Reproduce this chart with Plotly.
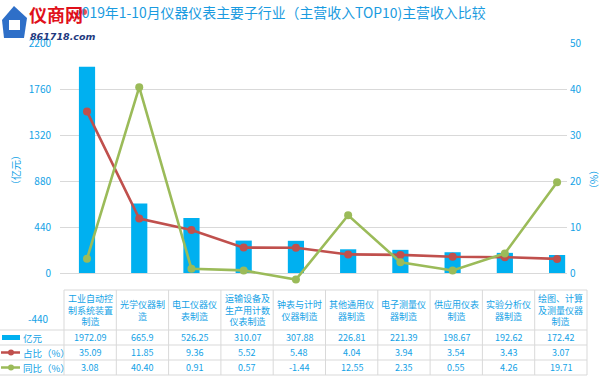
import plotly.graph_objects as go

# ---------------- data ----------------
categories = ["工业自动控制系统装置制造", "光学仪器制造", "电工仪器仪表制造",
              "运输设备及生产用计数仪表制造", "钟表与计时仪器制造", "其他通用仪器制造",
              "电子测量仪器制造", "供应用仪表制造", "实验分析仪器制造", "绘图、计算及测量仪器制造"]
header_labels = ["工业自动控<br>制系统装置<br>制造", "光学仪器制<br>造", "电工仪器仪<br>表制造",
                 "运输设备及<br>生产用计数<br>仪表制造", "钟表与计时<br>仪器制造", "其他通用仪<br>器制造",
                 "电子测量仪<br>器制造", "供应用仪表<br>制造", "实验分析仪<br>器制造", "绘图、计算<br>及测量仪器<br>制造"]
revenue = [1972.09, 665.9, 526.25, 310.07, 307.88, 226.81, 221.39, 198.67, 192.62, 172.42]
share = [35.09, 11.85, 9.36, 5.52, 5.48, 4.04, 3.94, 3.54, 3.43, 3.07]
growth = [3.08, 40.40, 0.91, 0.57, -1.44, 12.55, 2.35, 0.55, 4.26, 19.71]
left_ticks = [0, 440, 880, 1320, 1760, 2200]
right_ticks = [0, 10, 20, 30, 40, 50]
row_names = ["亿元", "占比（%）", "同比（%）"]
title_text = "2019年1-10月仪器仪表主要子行业（主营收入TOP10)主营收入比较"

# ---------------- style ----------------
W, H = 600, 378
BLUE = "#00B0F0"
TXT = "#12A2E6"
RED = "#C0504D"
GREEN = "#9BBB59"
GRID = "#D9D9D9"
FONT = "Noto Sans CJK SC"


def px(x):
    return x / W


def py(y):
    return 1 - y / H


fig = go.Figure()
fig.add_trace(go.Bar(x=categories, y=revenue, marker_color=BLUE, marker_line_width=0,
                     width=0.31, yaxis="y", name="亿元"))
fig.add_trace(go.Scatter(x=categories, y=share, yaxis="y2", mode="lines+markers",
                         line=dict(color=RED, width=2.6), marker=dict(size=8, color=RED),
                         name="占比（%）"))
fig.add_trace(go.Scatter(x=categories, y=growth, yaxis="y2", mode="lines+markers",
                         line=dict(color=GREEN, width=2.6), marker=dict(size=8, color=GREEN),
                         name="同比（%）"))

fig.update_layout(
    width=W, height=H, autosize=False,
    margin=dict(l=0, r=0, t=0, b=0, pad=0, autoexpand=False),
    title=dict(text=""),
    paper_bgcolor="white", plot_bgcolor="white",
    showlegend=False,
    font=dict(family=FONT, color=TXT, size=10),
    xaxis=dict(domain=[px(60), px(567)], type="category", range=[-0.517, 9.19],
               showticklabels=False, showgrid=False, zeroline=False, showline=False,
               automargin=False),
    yaxis=dict(domain=[py(319), py(43)], range=[-440, 2200], tickvals=left_ticks,
               showgrid=True, gridcolor=GRID, gridwidth=1, zeroline=False, showline=False,
               automargin=False,
               ticklabelstandoff=8, tickfont=dict(size=10, color=TXT)),
    yaxis2=dict(overlaying="y", side="right", range=[-10, 50], tickvals=right_ticks,
                showgrid=False, zeroline=False, showline=False, automargin=False,
                ticklabelstandoff=2, tickfont=dict(size=10, color=TXT)),
)

shapes = []
annotations = []

# title
annotations.append(dict(text=title_text, x=px(280), y=py(12), xref="paper", yref="paper",
                        showarrow=False, font=dict(size=13.9, color="#1A9BE0", family=FONT),
                        xanchor="center", yanchor="middle"))

# logo
shapes.append(dict(type="path", xref="paper", yref="paper",
                   path=f"M {px(2)} {py(20)} L {px(14)} {py(6)} L {px(27)} {py(18)} L {px(24)} {py(38)} L {px(4)} {py(38)} Z",
                   fillcolor="#2E6FC8", line=dict(width=0), layer="above"))
shapes.append(dict(type="rect", xref="paper", yref="paper", x0=px(9), x1=px(20), y0=py(30), y1=py(20),
                   fillcolor="white", line=dict(width=0), layer="above"))
shapes.append(dict(type="circle", xref="paper", yref="paper", x0=px(81), x1=px(87), y0=py(15), y1=py(9),
                   fillcolor="#E8505B", line=dict(width=0), layer="above"))
annotations.append(dict(text="<b>仪商网</b>", x=px(27), y=py(14), xref="paper", yref="paper",
                        showarrow=False, xanchor="left", yanchor="middle",
                        font=dict(size=18, color="#E0101A", family=FONT)))
annotations.append(dict(text="<b><i>861718.com</i></b>", x=px(28), y=py(36), xref="paper", yref="paper",
                        showarrow=False, xanchor="left", yanchor="middle",
                        font=dict(size=9.5, color="#1F3A80", family="DejaVu Sans")))

# axis titles
annotations.append(dict(text="（亿元）", x=px(15), y=py(170), xref="paper", yref="paper",
                        showarrow=False, textangle=-90, xanchor="center", yanchor="middle",
                        font=dict(size=10, color=TXT)))
annotations.append(dict(text="（%）", x=px(593), y=py(180), xref="paper", yref="paper",
                        showarrow=False, textangle=-90, xanchor="center", yanchor="middle",
                        font=dict(size=10, color=TXT)))
annotations.append(dict(text="-440", x=px(51), y=py(318), xref="paper", yref="paper",
                        showarrow=False, xanchor="right", yanchor="middle",
                        font=dict(size=10, color=TXT)))

# data table
col_left = 64.0
col_w = 52.3
n = len(categories)
edges = [col_left + col_w * i for i in range(n + 1)]
line_style = dict(color=GRID, width=1)
shapes.append(dict(type="line", xref="paper", yref="paper", x0=px(edges[0]), x1=px(edges[-1]),
                   y0=py(290), y1=py(290), line=line_style, layer="above"))
for yy in [330, 345, 360, 375]:
    shapes.append(dict(type="line", xref="paper", yref="paper", x0=px(0), x1=px(edges[-1]),
                       y0=py(yy), y1=py(yy), line=line_style, layer="above"))
for xx in edges:
    shapes.append(dict(type="line", xref="paper", yref="paper", x0=px(xx), x1=px(xx),
                       y0=py(290), y1=py(375), line=line_style, layer="above"))

row_y = [337.5, 352.5, 367.5]
row_texts = [[f"{v:g}" for v in revenue],
             [f"{v:.2f}" for v in share],
             [f"{v:.2f}" for v in growth]]
for i in range(n):
    cx = (edges[i] + edges[i + 1]) / 2
    annotations.append(dict(text=header_labels[i], x=px(cx), y=py(310), xref="paper", yref="paper",
                            showarrow=False, xanchor="center", yanchor="middle", align="center",
                            font=dict(size=9, color=TXT)))
    for r in range(3):
        annotations.append(dict(text=row_texts[r][i], x=px(cx), y=py(row_y[r]), xref="paper", yref="paper",
                                showarrow=False, xanchor="center", yanchor="middle",
                                font=dict(size=9, color=TXT)))

# row keys
shapes.append(dict(type="rect", xref="paper", yref="paper", x0=px(2), x1=px(20), y0=py(340), y1=py(335),
                   fillcolor=BLUE, line=dict(width=0), layer="above"))
for yy, col in [(352.5, RED), (367.5, GREEN)]:
    shapes.append(dict(type="line", xref="paper", yref="paper", x0=px(1), x1=px(20), y0=py(yy), y1=py(yy),
                       line=dict(color=col, width=2.5), layer="above"))
    shapes.append(dict(type="circle", xref="paper", yref="paper", x0=px(8), x1=px(14), y0=py(yy + 3), y1=py(yy - 3),
                       fillcolor=col, line=dict(width=0), layer="above"))
for r in range(3):
    annotations.append(dict(text=row_names[r], x=px(21), y=py(row_y[r]), xref="paper", yref="paper",
                            showarrow=False, xanchor="left", yanchor="middle",
                            font=dict(size=9.5, color=TXT)))

fig.update_layout(shapes=shapes, annotations=annotations)
fig.write_html("out.html", config={"displayModeBar": False},
               post_script="document.body.style.margin='0';document.body.style.padding='0';")
